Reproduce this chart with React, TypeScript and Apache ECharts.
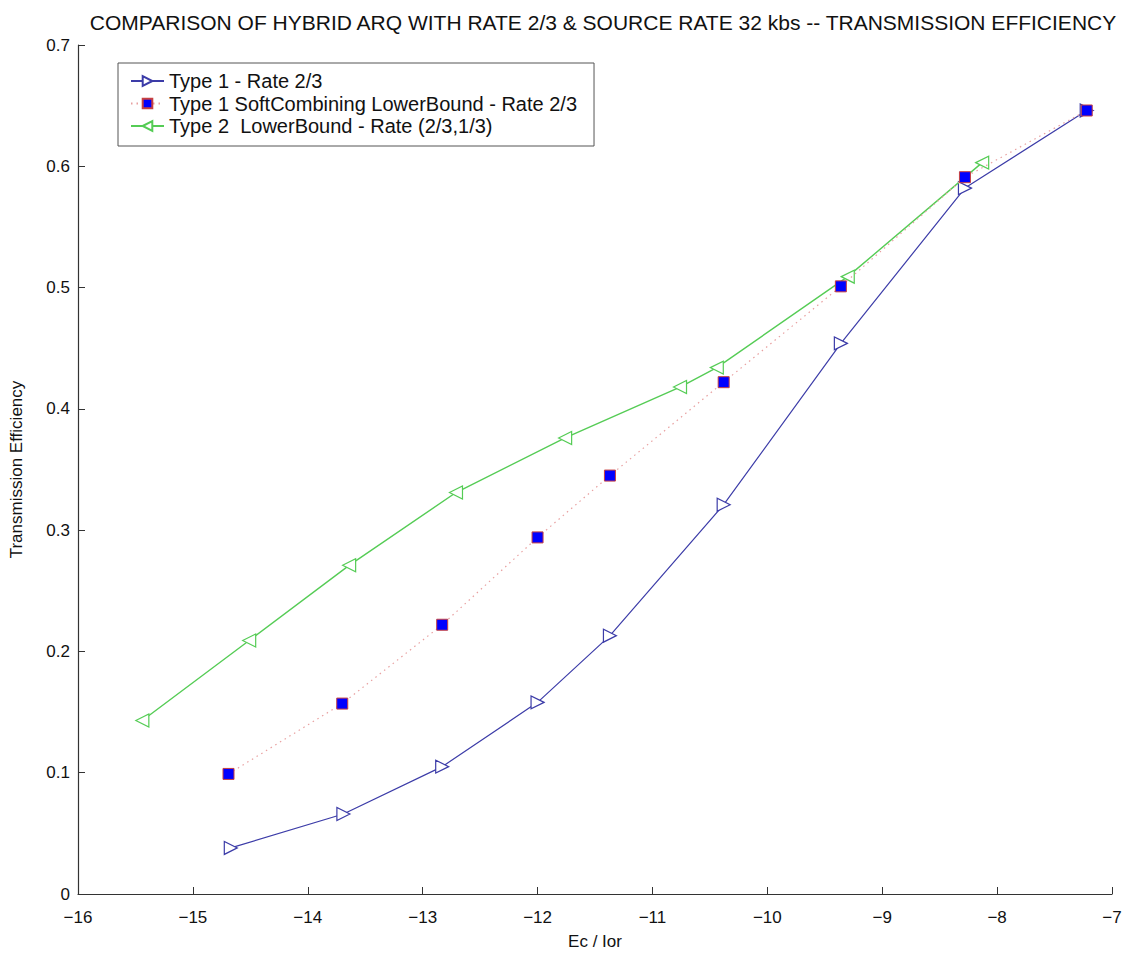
import React, { useEffect, useRef } from "react";
import * as echarts from "echarts";

const type1X = [-14.67, -13.69, -12.83, -12.0, -11.37, -10.38, -9.36, -8.28, -7.22];
const type1Y = [0.038, 0.066, 0.105, 0.158, 0.213, 0.321, 0.454, 0.582, 0.646];
const softX = [-14.69, -13.7, -12.83, -12.0, -11.37, -10.38, -9.36, -8.28, -7.22];
const softY = [0.099, 0.157, 0.222, 0.294, 0.345, 0.422, 0.501, 0.591, 0.646];
const type2X = [-15.44, -14.51, -13.64, -12.71, -11.76, -10.76, -10.44, -9.3, -8.13];
const type2Y = [0.143, 0.209, 0.271, 0.331, 0.376, 0.418, 0.434, 0.509, 0.603];

const seriesNames = [
  "Type 1 - Rate 2/3",
  "Type 1 SoftCombining LowerBound - Rate 2/3",
  "Type 2  LowerBound - Rate (2/3,1/3)",
];

const titleText =
  "COMPARISON OF HYBRID ARQ WITH RATE 2/3 & SOURCE RATE 32 kbs -- TRANSMISSION EFFICIENCY";

const FONT = "'Liberation Sans', Arial, Helvetica, sans-serif";

function zip(xs: number[], ys: number[]) {
  return xs.map((x, i) => [x, ys[i]]);
}

export default function App() {
  const ref = useRef<HTMLDivElement>(null);
  useEffect(() => {
    if (!ref.current) return;
    const chart = echarts.init(ref.current, null, { renderer: "svg" });
    chart.setOption({
      animation: false,
      backgroundColor: "#ffffff",
      title: {
        text: titleText,
        left: 598,
        top: 7,
        textAlign: "center",
        textStyle: { fontFamily: FONT, fontSize: 21, fontWeight: "normal", color: "#111" },
      },
      legend: {
        orient: "vertical",
        left: 118,
        top: 63,
        padding: [8, 17, 10, 12],
        itemWidth: 33,
        itemHeight: 12,
        itemGap: 2.5,
        itemTextGap: 14,
        borderColor: "#555",
        borderWidth: 1,
        backgroundColor: "#fff",
        textStyle: { fontFamily: FONT, fontSize: 20, color: "#111", lineHeight: 20 },
        data: seriesNames,
      },
      grid: { left: 77, right: 20, top: 45, bottom: 66, containLabel: false },
      xAxis: {
        type: "value",
        min: -16,
        max: -7,
        interval: 1,
        name: "Ec / Ior",
        nameLocation: "middle",
        nameGap: 39,
        nameTextStyle: { fontFamily: FONT, fontSize: 17, color: "#111" },
        axisLine: { lineStyle: { color: "#333", width: 1.2 } },
        axisTick: { inside: true, length: 7, lineStyle: { color: "#333" } },
        axisLabel: {
          fontFamily: FONT,
          fontSize: 17,
          color: "#111",
          margin: 15,
          formatter: (v: number) => (v < 0 ? "\u2212" + Math.abs(v) : String(v)),
        },
        splitLine: { show: false },
      },
      yAxis: {
        type: "value",
        min: 0,
        max: 0.7,
        interval: 0.1,
        name: "Transmission Efficiency",
        nameLocation: "middle",
        nameGap: 53,
        nameTextStyle: { fontFamily: FONT, fontSize: 17, color: "#111" },
        axisLine: { show: true, lineStyle: { color: "#333", width: 1.2 } },
        axisTick: { show: true, inside: true, length: 7, lineStyle: { color: "#333" } },
        axisLabel: {
          fontFamily: FONT,
          fontSize: 17,
          color: "#111",
          margin: 8,
          formatter: (v: number) => (v === 0 ? "0" : v.toFixed(1)),
        },
        splitLine: { show: false },
      },
      series: [
        {
          name: seriesNames[0],
          type: "line",
          data: zip(type1X, type1Y),
          symbol: "triangle",
          symbolSize: 13,
          symbolRotate: -90,
          lineStyle: { color: "#3c3ca8", width: 1.2 },
          itemStyle: { color: "#ffffff", borderColor: "#3c3ca8", borderWidth: 1.2 },
          z: 2,
        },
        {
          name: seriesNames[1],
          type: "line",
          data: zip(softX, softY),
          symbol: "rect",
          symbolSize: 11,
          lineStyle: { color: "#e8a0a0", width: 1.2, type: [1.5, 4] },
          itemStyle: { color: "#0000ff", borderColor: "#c84040", borderWidth: 1 },
          z: 4,
        },
        {
          name: seriesNames[2],
          type: "line",
          data: zip(type2X, type2Y),
          symbol: "triangle",
          symbolSize: 13,
          symbolRotate: 90,
          lineStyle: { color: "#55cc55", width: 1.4 },
          itemStyle: { color: "#ffffff", borderColor: "#55cc55", borderWidth: 1.2 },
          z: 3,
        },
      ],
    });
    return () => chart.dispose();
  }, []);
  return <div ref={ref} style={{ width: 1132, height: 960, marginLeft: -8, marginTop: -8 }} />;
}
